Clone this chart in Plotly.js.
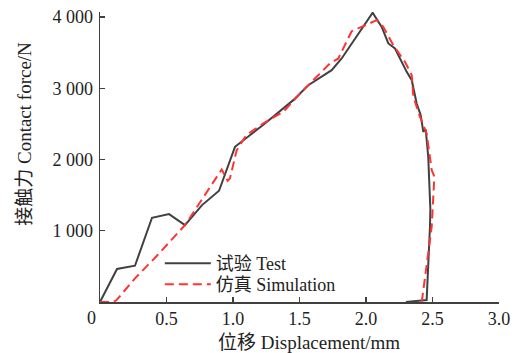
<!DOCTYPE html>
<html>
<head>
<meta charset="utf-8">
<script src="https://cdn.plot.ly/plotly-3.0.1.min.js"></script>
<style>html,body{margin:0;padding:0;background:#fff;}#chart{width:513px;height:353px;}</style>
</head>
<body>
<div id="chart"></div>
<script>
// Test (试验) curve: displacement (mm) and contact force (N)
const testX = [0, 0.128, 0.263, 0.391, 0.519, 0.639, 0.767, 0.895, 1.015, 1.128, 1.24, 1.453, 1.566, 1.742, 1.817, 2.05, 2.118, 2.168, 2.218, 2.306, 2.344, 2.381, 2.411, 2.431, 2.449, 2.468, 2.481, 2.484, 2.481, 2.468, 2.456, 2.3];
const testY = [0, 463, 509, 1182, 1234, 1080, 1360, 1561, 2178, 2342, 2506, 2833, 3043, 3254, 3418, 4060, 3861, 3628, 3558, 3230, 3113, 2786, 2623, 2388, 2422, 2038, 1523, 1300, 1056, 589, 28, 0];
// Simulation (仿真) curve
const simX = [0, 0.1, 0.125, 0.263, 0.426, 0.639, 0.714, 0.84, 0.915, 0.96, 0.977, 1.028, 1.10, 1.228, 1.378, 1.529, 1.729, 1.792, 1.842, 1.892, 1.967, 2.03, 2.08, 2.13, 2.155, 2.205, 2.293, 2.344, 2.356, 2.406, 2.456, 2.494, 2.514, 2.506, 2.494, 2.468, 2.431, 2.419];
const simY = [0, 0, 28, 332, 645, 1080, 1290, 1641, 1861, 1700, 1735, 2132, 2342, 2506, 2669, 2973, 3348, 3418, 3604, 3800, 3861, 3908, 3955, 3861, 3768, 3604, 3370, 3183, 2879, 2599, 2366, 1851, 1757, 1430, 1056, 683, 215, 0];
// Tick values and labels
const xTickVals = [0, 0.5, 1.0, 1.5, 2.0, 2.5, 3.0];
const xTickText = ['', '0.5', '1.0', '1.5', '2.0', '2.5', '3.0'];
const yTickVals = [1000, 2000, 3000, 4000];
const yTickText = ['1 000', '2 000', '3 000', '4 000'];
const originLabel = '0';
const seriesNames = ['试验 Test', '仿真 Simulation'];
const xTitle = '位移 Displacement/mm';
const yTitle = '接触力 Contact force/N';

const FONT = 'Liberation Serif, Times New Roman, Noto Sans CJK SC, serif';
const axisColor = '#404040';
const textColor = '#222';

const traces = [
  {x: testX, y: testY, name: seriesNames[0], mode: 'lines', type: 'scatter', legend: 'legend',
   line: {color: '#404040', width: 2}},
  {x: simX, y: simY, name: seriesNames[1], mode: 'lines', type: 'scatter', legend: 'legend2',
   line: {color: '#ff3333', width: 2, dash: '9px,5px'}}
];

const legendBase = {xanchor: 'left', yanchor: 'top', bgcolor: 'rgba(0,0,0,0)', borderwidth: 0,
  font: {family: FONT, size: 18, color: textColor}, itemwidth: 46};

const layout = {
  width: 513, height: 353,
  margin: {l: 100, r: 14, t: 12, b: 51},
  paper_bgcolor: '#fff', plot_bgcolor: '#fff',
  font: {family: FONT, size: 18, color: textColor},
  showlegend: true,
  legend: Object.assign({x: 0.15, y: 0.196}, legendBase),
  legend2: Object.assign({x: 0.15, y: 0.124}, legendBase),
  xaxis: {
    range: [0, 3.0], showgrid: false, zeroline: false,
    showline: true, linecolor: axisColor, linewidth: 1.5,
    ticks: 'inside', ticklen: 5, tickwidth: 1.2, tickcolor: axisColor,
    tickvals: xTickVals, ticktext: xTickText,
    tickfont: {family: FONT, size: 18, color: textColor}
  },
  yaxis: {
    range: [0, 4070], showgrid: false, zeroline: false,
    showline: true, linecolor: axisColor, linewidth: 1.5,
    ticks: 'inside', ticklen: 5, tickwidth: 1.2, tickcolor: axisColor,
    tickvals: yTickVals, ticktext: yTickText, ticklabelstandoff: 2,
    tickfont: {family: FONT, size: 18, color: textColor}
  },
  annotations: [
    {text: yTitle, textangle: -90, xref: 'paper', yref: 'paper', x: -0.188, y: 0.58,
     xanchor: 'center', yanchor: 'middle', showarrow: false,
     font: {family: FONT, size: 19, color: textColor}},
    {text: xTitle, xref: 'paper', yref: 'paper', x: 0.524, y: -0.138,
     xanchor: 'center', yanchor: 'middle', showarrow: false,
     font: {family: FONT, size: 19, color: textColor}},
    {text: originLabel, xref: 'x', yref: 'y', x: 0, y: 0, xanchor: 'center', yanchor: 'top',
     xshift: -8.5, yshift: -4, showarrow: false,
     font: {family: FONT, size: 18, color: textColor}}
  ]
};

Plotly.newPlot('chart', traces, layout, {staticPlot: true, displayModeBar: false});
</script>
</body>
</html>
